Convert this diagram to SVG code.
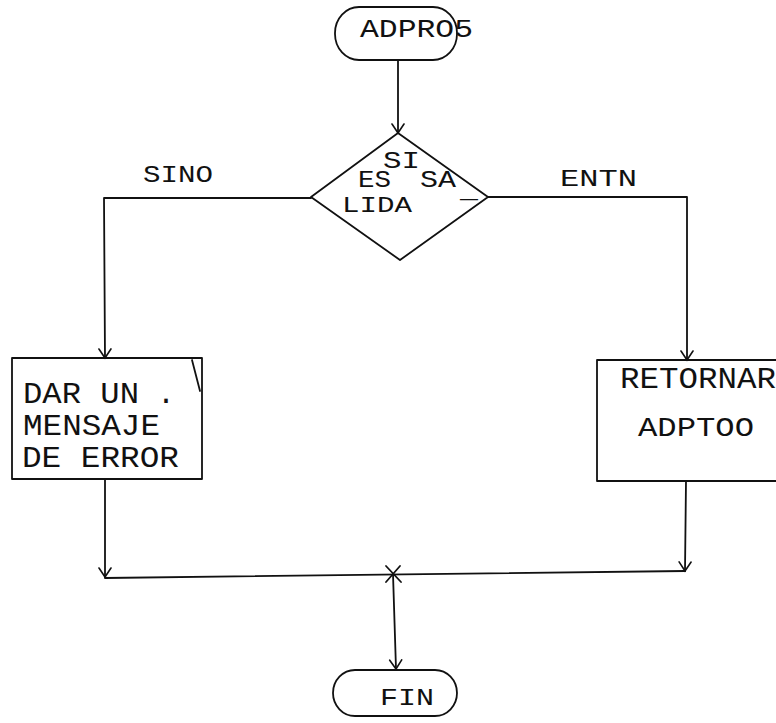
<svg xmlns="http://www.w3.org/2000/svg" width="776" height="723" viewBox="0 0 776 723">
<style>
.s{fill:none;stroke:#111;stroke-width:1.8;stroke-linecap:round;stroke-linejoin:round}
.t{font-family:"Liberation Mono","DejaVu Sans Mono",monospace;fill:#111}
</style>
<defs>
<marker id="ah" viewBox="-10 -8 12 16" refX="0" refY="0" markerWidth="12" markerHeight="16" markerUnits="userSpaceOnUse" orient="auto">
<path d="M-9,-6 L0,0 L-9,6" fill="none" stroke="#111" stroke-width="1.6" stroke-linecap="round"/>
</marker>
</defs>
<rect width="776" height="723" fill="#fff"/>
<g id="connectors">
<path class="s" d="M398,60 L398,133" marker-end="url(#ah)"/>
<path class="s" d="M311,198 L104,198 L105,358" marker-end="url(#ah)"/>
<path class="s" d="M488,197 L687,197 L687,360" marker-end="url(#ah)"/>
<path class="s" d="M105,479 L105,577" marker-end="url(#ah)"/>
<path class="s" d="M686,481 L685,571" marker-end="url(#ah)"/>
<path class="s" d="M105,578 L685,571"/>
<path class="s" d="M393,574 L396,669" marker-end="url(#ah)"/>
<path class="s" d="M386,566 L401,582 M400,566 L386,582"/>
</g>
<g id="start">
<rect class="s" x="335" y="7" width="122" height="53" rx="24" ry="26"/>
<text class="t" x="360" y="37" font-size="26" textLength="113" lengthAdjust="spacingAndGlyphs">ADPRO5</text>
</g>
<g id="decision">
<path class="s" d="M398,133 L488,197 L400,260 L311,197 Z"/>
<text class="t" x="383" y="168" font-size="23" textLength="37" lengthAdjust="spacingAndGlyphs">SI</text>
<text class="t" x="358" y="187" font-size="23" textLength="33" lengthAdjust="spacingAndGlyphs">ES</text>
<text class="t" x="420" y="187" font-size="23" textLength="36" lengthAdjust="spacingAndGlyphs">SA</text>
<text class="t" x="460" y="198" font-size="23" textLength="18" lengthAdjust="spacingAndGlyphs">_</text>
<text class="t" x="342" y="212" font-size="22" textLength="70" lengthAdjust="spacingAndGlyphs">LIDA</text>
</g>
<g id="label-sino">
<text class="t" x="143" y="182" font-size="23" textLength="70" lengthAdjust="spacingAndGlyphs">SINO</text>
</g>
<g id="label-entn">
<text class="t" x="560" y="186" font-size="23" textLength="77" lengthAdjust="spacingAndGlyphs">ENTN</text>
</g>
<g id="error-box">
<rect class="s" x="12" y="358" width="190" height="121"/>
<path class="s" d="M192,360 L200,391"/>
<text class="t" x="23" y="403" font-size="30" textLength="116" lengthAdjust="spacingAndGlyphs">DAR UN</text>
<text class="t" x="157" y="403" font-size="30">.</text>
<text class="t" x="23" y="435" font-size="30" textLength="137" lengthAdjust="spacingAndGlyphs">MENSAJE</text>
<text class="t" x="22" y="467" font-size="30" textLength="157" lengthAdjust="spacingAndGlyphs">DE ERROR</text>
</g>
<g id="return-box">
<path class="s" d="M780,360 L597,360 L597,481 L780,481"/>
<text class="t" x="620" y="388" font-size="29" textLength="156" lengthAdjust="spacingAndGlyphs">RETORNAR</text>
<text class="t" x="638" y="436" font-size="28" textLength="116" lengthAdjust="spacingAndGlyphs">ADPTOO</text>
</g>
<g id="end">
<rect class="s" x="333" y="670" width="124" height="46" rx="22" ry="23"/>
<text class="t" x="380" y="705" font-size="23" textLength="54" lengthAdjust="spacingAndGlyphs">FIN</text>
</g>
</svg>
